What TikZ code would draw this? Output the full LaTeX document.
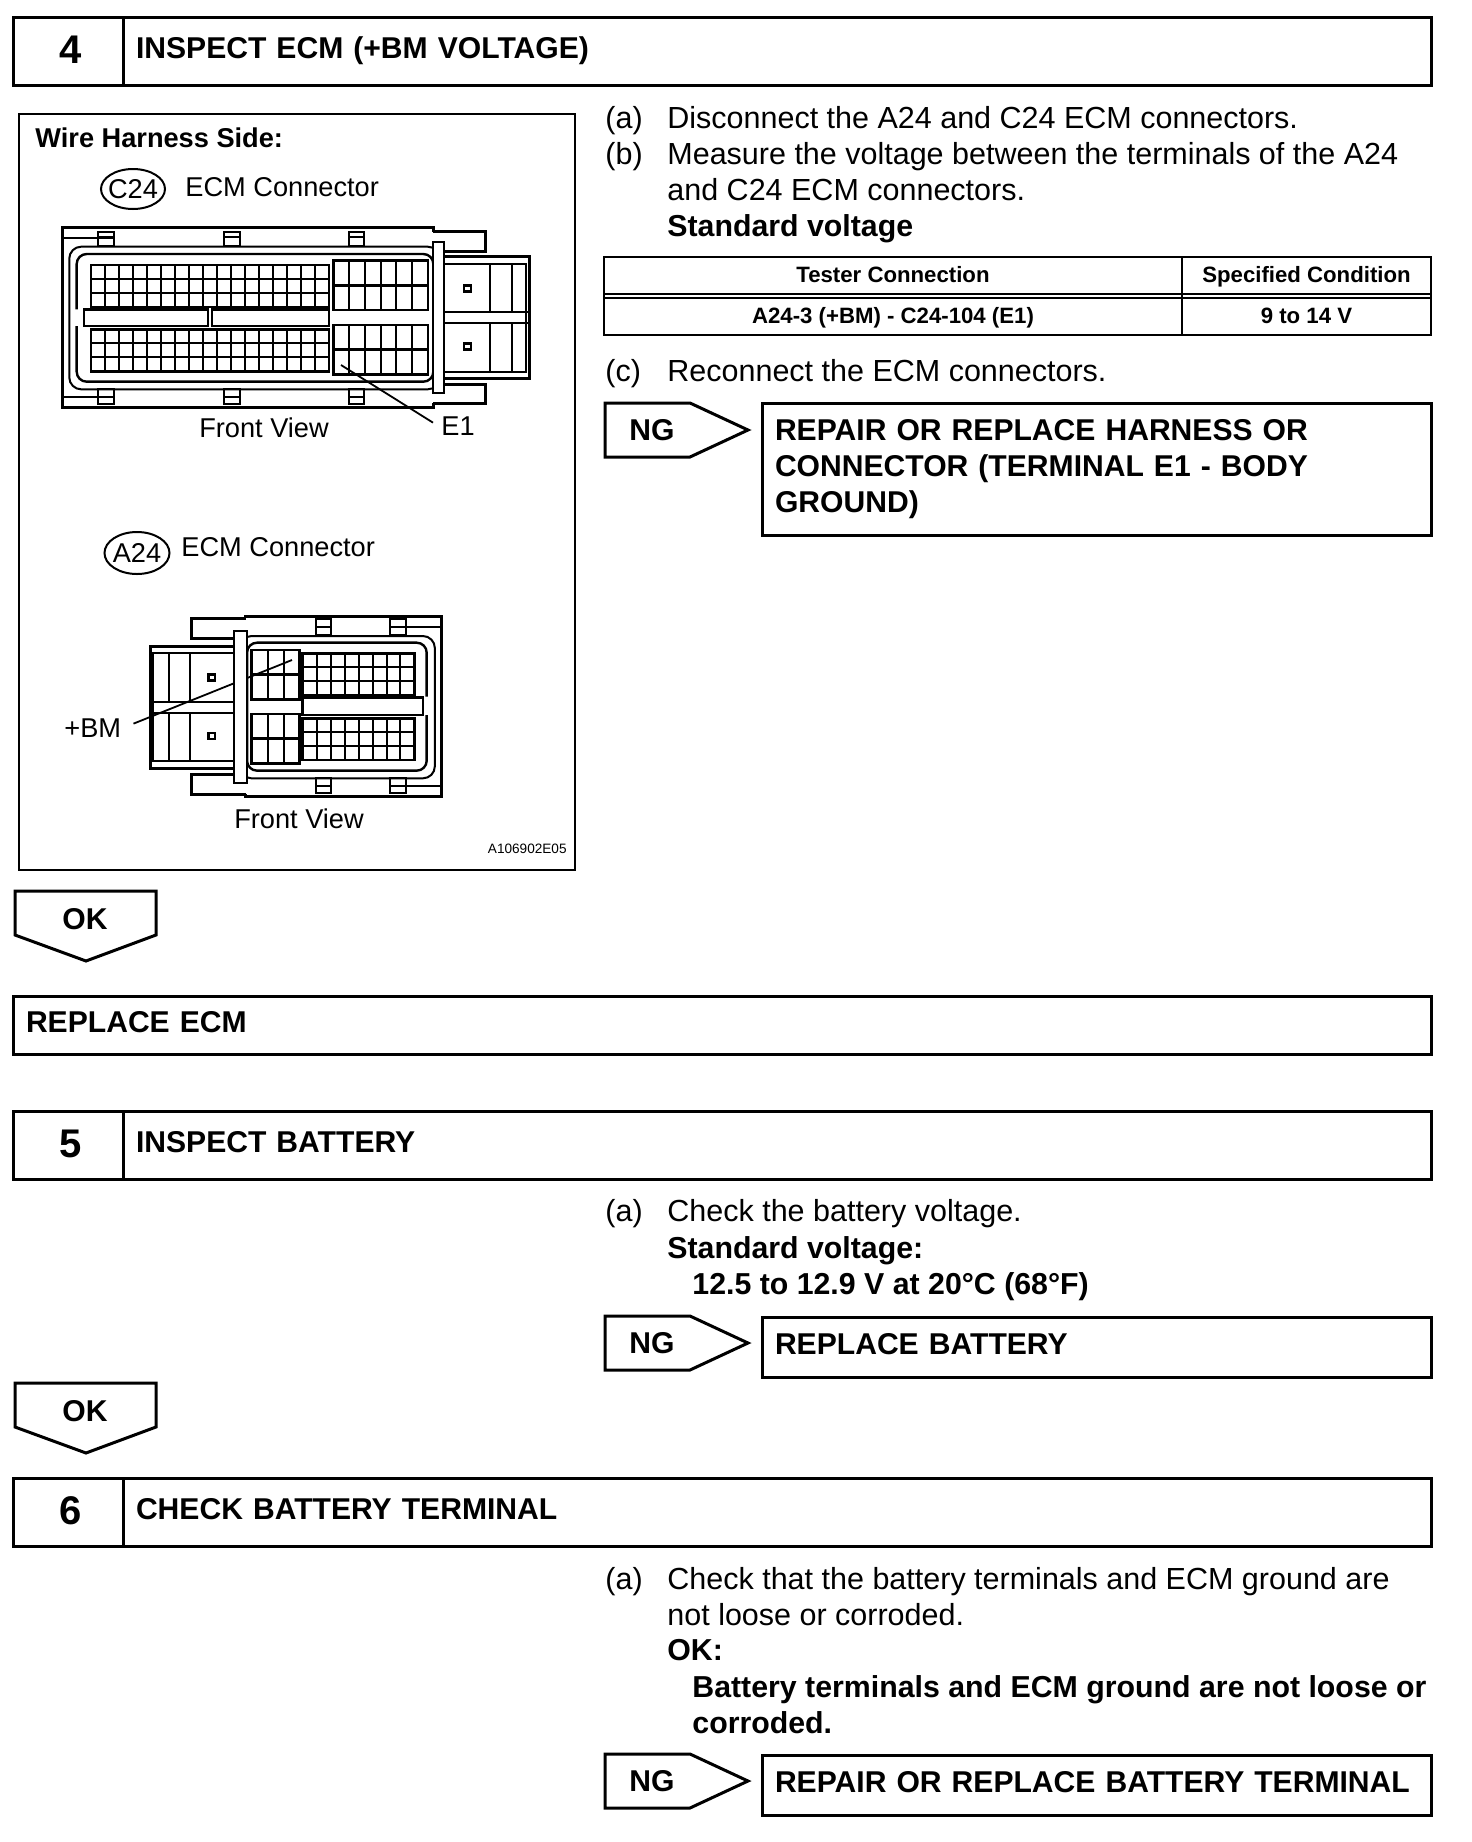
\documentclass[tikz,border=0pt]{standalone}
\usepackage{fontspec}
\setmainfont{Liberation Sans}
\usetikzlibrary{shapes.geometric, positioning}

\begin{document}
\begin{tikzpicture}[
  x=0.5pt, y=-0.5pt,
  body/.style={anchor=base west, inner sep=0pt, font=\fontsize{15.25}{18}\selectfont},
  bodybold/.style={body, font=\fontsize{15.15}{18}\selectfont\bfseries},
  rbox/.style={
    draw, rectangle, line width=1.5pt, anchor=north west, align=left,
    inner xsep=6.5pt, inner ysep=0pt, outer sep=0pt,
    text height=11pt, text depth=3.5pt,
    font=\fontsize{15.05}{18}\selectfont\bfseries,
  },
  numbox/.style={
    rbox, align=center, inner xsep=0pt, text width=55pt,
    text height=14pt, text depth=2pt, font=\fontsize{20}{22}\selectfont\bfseries,
  },
  cell/.style={
    draw, rectangle, line width=0.8pt, anchor=north west, align=center,
    inner sep=0pt, outer sep=0pt, text height=8pt, text depth=1pt,
    font=\fontsize{11.1}{13}\selectfont\bfseries,
  },
  tag/.style={draw, line width=1.5pt, line join=miter},
  tagtext/.style={inner sep=0pt, font=\fontsize{15.05}{18}\selectfont\bfseries},
  figtext/.style={anchor=base west, inner sep=0pt, font=\fontsize{13.6}{16}\selectfont},
  oval/.style={figtext, draw, ellipse, line width=1pt, inner sep=-1.2pt, anchor=center},
  thickl/.style={line width=1.5pt},
  midl/.style={line width=1.2pt},
  thinl/.style={line width=1pt},
  leader/.style={line width=0.9pt},
]
  \useasboundingbox (0,0) rectangle (1472,1842);

  % Step 4
  \node[numbox, minimum height=34pt] (numFour) at (13,17) {\hspace*{2.4pt}4};
  \node[rbox, text width=641pt, minimum height=34pt] (titleFour) at (123,17) {INSPECT ECM (+BM VOLTAGE)};

  \node[draw, line width=1pt, rectangle, anchor=north west, minimum width=278pt, minimum height=378pt, inner sep=0pt, outer sep=0pt] (panel) at (19,114) {};
  \node[figtext, font=\fontsize{13.6}{16}\selectfont\bfseries] (harness) at (35,147) {Wire Harness Side:};
  \node[oval, minimum width=32pt, minimum height=20pt] (ovalC) at (133,189) {C24};
  \node[figtext] (ecmC) at (185,196) {ECM Connector};
  \node[figtext, anchor=base] (frontC) at (264,437) {Front View};
  \node[figtext] (labelE) at (441,435) {E1};
  \coordinate (pinE) at (341,365);
  \draw[leader] (labelE.west) ++(-8,-3) -- (pinE);

  \node[oval, minimum width=32.5pt, minimum height=21pt] (ovalA) at (137,553) {A24};
  \node[figtext] (ecmA) at (181,556) {ECM Connector};
  \node[figtext, anchor=base] (frontA) at (299,828) {Front View};
  \node[figtext] (labelBM) at (64,737) {+BM};
  \coordinate (pinBM) at (292,660);
  \draw[leader] (labelBM.east) ++(12,-4) -- (pinBM);
  \node[inner sep=0pt, anchor=base east, font=\fontsize{6.8}{8}\selectfont] (figcode) at (567,853) {A106902E05};

  % C24 connector
  \begin{scope}[shift={(10,110)}, x=0.18519pt, y=-0.16667pt]
    \draw[thickl] (1143,365) -- (1143,352) -- (143,352) -- (143,891) -- (1143,891) -- (1143,880);
    \draw[thickl] (1143,365) -- (1283,365) -- (1283,425) -- (1172,425);
    \draw[thickl] (1172,822) -- (1283,822) -- (1283,880) -- (1143,880);
    \draw[thinl] (143,385) -- (280,385) (143,860) -- (280,860);
    \foreach \tabx in {238,578,915} {
      \draw[thinl] (\tabx,365) rectangle ++(42,43);
      \draw[thinl] (\tabx,380) -- ++(42,0);
      \draw[thinl] (\tabx,838) rectangle ++(42,44);
      \draw[thinl] (\tabx,862) -- ++(42,0);
    }
    \draw[thinl, rounded corners=6pt] (160,410) rectangle (1160,838);
    \draw[midl, rounded corners=5pt] (180,598) -- (180,432) -- (1143,432) -- (1143,815) -- (180,815) -- (180,648);
    \draw[midl, fill=white] (200,598) rectangle (535,648);
    \draw[midl, fill=white] (545,598) rectangle (862,648);
    \foreach \ytop in {465,658} {
      \draw[midl] (218,\ytop) rectangle (862,\ytop+126);
      \foreach \i in {1,...,16} \draw[thinl] (218+\i*37.9,\ytop) -- ++(0,126);
      \foreach \j in {1,2} \draw[thinl] (218,\ytop+\j*42) -- ++(644,0);
    }
    \foreach \ytop in {452,645} {
      \draw[midl] (873,\ytop) rectangle (1128,\ytop+148);
      \foreach \i in {1,...,5} \draw[thinl] (873+\i*42.5,\ytop) -- ++(0,148);
      \draw[midl] (873,\ytop+74) -- ++(255,0);
    }
    \draw[thinl, fill=white] (1143,395) rectangle (1172,850);
    \draw[thickl] (1172,440) -- (1402,440) -- (1402,805) -- (1172,805);
    \draw[thinl] (1172,462) -- (1394,462) -- (1394,785) -- (1172,785);
    \draw[thinl] (1172,605) -- (1402,605) (1172,640) -- (1402,640);
    \foreach \bx in {1295,1355} \draw[thinl] (\bx,462) -- (\bx,605) (\bx,640) -- (\bx,785);
    \foreach \sy in {535,710} \draw[midl] (1226,\sy-9) rectangle ++(18,18);
  \end{scope}

  % A24 connector
  \begin{scope}[shift={(10,520)}, x=0.18519pt, y=-0.16667pt]
    \draw[thickl] (637,295) -- (637,290) -- (1164,290) -- (1164,828) -- (637,828) -- (637,822);
    \draw[thickl] (637,295) -- (490,295) -- (490,355) -- (605,355);
    \draw[thickl] (605,762) -- (490,762) -- (490,822) -- (637,822);
    \draw[thinl] (1025,320) -- (1164,320) (1025,797) -- (1164,797);
    \foreach \tabx in {825,1027} {
      \draw[thinl] (\tabx,298) rectangle ++(41,47);
      \draw[thinl] (\tabx,322) -- ++(41,0);
      \draw[thinl] (\tabx,775) rectangle ++(41,45);
      \draw[thinl] (\tabx,797) -- ++(41,0);
    }
    \draw[thinl, rounded corners=6pt] (620,348) rectangle (1147,775);
    \draw[midl, rounded corners=5pt] (1125,530) -- (1125,368) -- (640,368) -- (640,752) -- (1125,752) -- (1125,585);
    \draw[midl, fill=white] (790,533) rectangle (1115,585);
    \foreach \ytop in {400,595} {
      \draw[midl] (790,\ytop) rectangle (1092,\ytop+125);
      \foreach \i in {1,...,7} \draw[thinl] (790+\i*37.75,\ytop) -- ++(0,125);
      \foreach \j in {1,2} \draw[thinl] (790,\ytop+\j*41.7) -- ++(302,0);
    }
    \foreach \ytop in {390,582} {
      \draw[midl] (652,\ytop) rectangle (782,\ytop+148);
      \foreach \i in {1,2} \draw[thinl] (652+\i*43.3,\ytop) -- ++(0,148);
      \draw[midl] (652,\ytop+74) -- ++(130,0);
    }
    \draw[thinl, fill=white] (605,332) rectangle (640,790);
    \draw[thickl] (605,380) -- (380,380) -- (380,745) -- (605,745);
    \draw[thinl] (605,400) -- (387,400) -- (387,722) -- (605,722);
    \draw[thinl] (380,545) -- (605,545) (380,578) -- (605,578);
    \foreach \bx in {428,485} \draw[thinl] (\bx,400) -- (\bx,545) (\bx,578) -- (\bx,722);
    \foreach \sy in {472,648} \draw[midl] (536,\sy-9) rectangle ++(18,18);
  \end{scope}

  % Step 4 text
  \node[body] (stepAa) at (605,128) {(a)};
  \node[body] (lineAa) at (667,128) {Disconnect the A24 and C24 ECM connectors.};
  \node[body] (stepAb) at (605,164) {(b)};
  \node[body] (lineAb) at (667,164) {Measure the voltage between the terminals of the A24};
  \node[body] (lineAc) at (667,200) {and C24 ECM connectors.};
  \node[bodybold] (lineAd) at (667,236) {Standard voltage};

  \node[cell, minimum width=289pt, minimum height=18.5pt] (headTester) at (604,257) {Tester Connection};
  \node[cell, minimum width=124.5pt, minimum height=18.5pt] (headCond) at (1182,257) {Specified Condition};
  \node[cell, minimum width=289pt, minimum height=18.5pt] (rowTester) at (604,298) {A24-3 (+BM) - C24-104 (E1)};
  \node[cell, minimum width=124.5pt, minimum height=18.5pt] (rowCond) at (1182,298) {9 to 14 V};
  \draw[thinl] (headTester.south west) -- (rowTester.north west);
  \draw[thinl] (headTester.south east) -- (rowTester.north east);
  \draw[thinl] (headCond.south east) -- (rowCond.north east);

  \node[body] (stepAe) at (605,381) {(c)};
  \node[body] (lineAe) at (667,381) {Reconnect the ECM connectors.};

  \node[rbox, text width=321.5pt, minimum height=66pt, text depth=39.5pt] (repairFour) at (762,403) {REPAIR OR REPLACE HARNESS OR\\CONNECTOR (TERMINAL E1 - BODY\\GROUND)};

  % NG and OK tags
  \foreach \tagy in {403,1316,1754} {
    \draw[tag] (605,\tagy) -- (690,\tagy) -- (748,\tagy+27) -- (690,\tagy+54) -- (605,\tagy+54) -- cycle;
    \node[tagtext] (ng\tagy) at (652,\tagy+27) {NG};
  }
  \foreach \tagy in {891,1383} {
    \draw[tag] (15,\tagy) -- (156,\tagy) -- (156,\tagy+44) -- (86,\tagy+70) -- (15,\tagy+44) -- cycle;
    \node[tagtext] (ok\tagy) at (85,\tagy+28) {OK};
  }

  \node[rbox, text width=696pt, minimum height=29pt] (replaceEcm) at (13,996) {REPLACE ECM};

  % Step 5
  \node[numbox, minimum height=34pt] (numFive) at (13,1111) {\hspace*{2.4pt}5};
  \node[rbox, text width=641pt, minimum height=34pt] (titleFive) at (123,1111) {INSPECT BATTERY};
  \node[body] (stepBa) at (605,1221) {(a)};
  \node[body] (lineBa) at (667,1221) {Check the battery voltage.};
  \node[bodybold] (lineBb) at (667,1258) {Standard voltage:};
  \node[bodybold] (lineBc) at (692,1294) {12.5 to 12.9 V at 20°C (68°F)};
  \node[rbox, text width=321.5pt, minimum height=30pt] (replaceBatt) at (762,1317) {REPLACE BATTERY};

  % Step 6
  \node[numbox, minimum height=34pt] (numSix) at (13,1478) {\hspace*{2.4pt}6};
  \node[rbox, text width=641pt, minimum height=34pt] (titleSix) at (123,1478) {CHECK BATTERY TERMINAL};
  \node[body] (stepCa) at (605,1589) {(a)};
  \node[body] (lineCa) at (667,1589) {Check that the battery terminals and ECM ground are};
  \node[body] (lineCb) at (667,1625) {not loose or corroded.};
  \node[bodybold] (lineCc) at (667,1660) {OK:};
  \node[bodybold] (lineCd) at (692,1697) {Battery terminals and ECM ground are not loose or};
  \node[bodybold] (lineCe) at (692,1733) {corroded.};
  \node[rbox, text width=321.5pt, minimum height=30pt] (repairBatt) at (762,1755) {REPAIR OR REPLACE BATTERY TERMINAL};
\end{tikzpicture}
\end{document}
